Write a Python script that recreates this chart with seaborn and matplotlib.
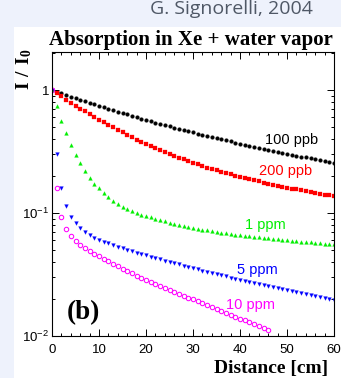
"""
Light absorption in Xe + water vapor (Signorelli 2004), redrawn with seaborn.
"""

import numpy as np
import pandas as pd
import matplotlib

matplotlib.use("Agg")
import matplotlib.pyplot as plt
from matplotlib.patches import Rectangle
from matplotlib.ticker import MultipleLocator, LogLocator, NullFormatter
import seaborn as sns

# distance along the cell [cm], one point per cm
distance = list(range(0, 61))

# log10(I/I0) for each contamination level
log10_100ppb = [0, -0.013, -0.026, -0.040, -0.053, -0.066, -0.078, -0.091, -0.103, -0.116,
                -0.128, -0.140, -0.152, -0.163, -0.175, -0.187, -0.198, -0.210, -0.221, -0.233,
                -0.244, -0.254, -0.265, -0.275, -0.286, -0.296, -0.306, -0.316, -0.325, -0.335,
                -0.345, -0.354, -0.363, -0.373, -0.382, -0.391, -0.400, -0.409, -0.418, -0.427,
                -0.436, -0.444, -0.453, -0.461, -0.470, -0.478, -0.486, -0.494, -0.502, -0.510,
                -0.518, -0.526, -0.533, -0.541, -0.548, -0.556, -0.563, -0.571, -0.578, -0.586,
                -0.593]
log10_200ppb = [0, -0.026, -0.051, -0.077, -0.102, -0.128, -0.151, -0.174, -0.197, -0.219,
                -0.241, -0.262, -0.283, -0.304, -0.324, -0.344, -0.364, -0.383, -0.402, -0.421,
                -0.438, -0.456, -0.472, -0.489, -0.505, -0.520, -0.535, -0.550, -0.564, -0.578,
                -0.592, -0.605, -0.618, -0.630, -0.642, -0.653, -0.664, -0.675, -0.686, -0.696,
                -0.706, -0.715, -0.725, -0.734, -0.743, -0.752, -0.760, -0.769, -0.777, -0.785,
                -0.793, -0.801, -0.808, -0.816, -0.823, -0.830, -0.837, -0.844, -0.851, -0.857,
                -0.864]
log10_1ppm = [0, -0.128, -0.252, -0.352, -0.447, -0.531, -0.596, -0.661, -0.715, -0.760,
              -0.800, -0.835, -0.870, -0.900, -0.926, -0.948, -0.967, -0.984, -0.999, -1.012,
              -1.024, -1.036, -1.047, -1.058, -1.068, -1.078, -1.087, -1.096, -1.104, -1.112,
              -1.120, -1.127, -1.134, -1.141, -1.147, -1.153, -1.159, -1.165, -1.170, -1.175,
              -1.180, -1.185, -1.190, -1.194, -1.198, -1.202, -1.206, -1.210, -1.214, -1.218,
              -1.222, -1.226, -1.229, -1.233, -1.236, -1.239, -1.242, -1.245, -1.248, -1.251,
              -1.254]
log10_5ppm = [0, -0.520, -0.800, -0.945, -1.030, -1.084, -1.125, -1.157, -1.180, -1.200,
              -1.218, -1.233, -1.247, -1.260, -1.273, -1.286, -1.298, -1.310, -1.321, -1.332,
              -1.343, -1.354, -1.365, -1.376, -1.387, -1.397, -1.408, -1.418, -1.428, -1.438,
              -1.448, -1.458, -1.468, -1.478, -1.488, -1.497, -1.507, -1.516, -1.526, -1.535,
              -1.544, -1.553, -1.562, -1.571, -1.579, -1.588, -1.596, -1.605, -1.613, -1.621,
              -1.629, -1.637, -1.645, -1.653, -1.661, -1.669, -1.676, -1.684, -1.692, -1.699,
              -1.707]
log10_10ppm = [0, -0.800, -1.030, -1.133, -1.183, -1.225, -1.257, -1.284, -1.308, -1.330,
               -1.351, -1.372, -1.393, -1.413, -1.433, -1.453, -1.472, -1.491, -1.509, -1.527,
               -1.545, -1.561, -1.577, -1.593, -1.609, -1.625, -1.641, -1.657, -1.673, -1.688,
               -1.703, -1.719, -1.734, -1.750, -1.765, -1.781, -1.796, -1.812, -1.827, -1.843,
               -1.858, -1.873, -1.888, -1.903, -1.918, -1.933, -1.948]

series_names = ["100 ppb", "200 ppb", "1 ppm", "5 ppm", "10 ppm"]
series_logs = [log10_100ppb, log10_200ppb, log10_1ppm, log10_5ppm, log10_10ppm]
series_colors = ["black", "#ff0000", "#00ee00", "#0000ff", "#ff00ff"]
series_markers = ["o", "s", "^", "v", "o"]

# where each series label sits (distance, I/I0)
label_x = [50.9, 49.6, 45.3, 43.8, 42.2]
label_y = [0.39, 0.219, 0.080, 0.0344, 0.018]

frames = []
for name, logs in zip(series_names, series_logs):
    frames.append(pd.DataFrame({
        "distance": distance[:len(logs)],
        "ratio": np.power(10.0, logs),
        "series": name,
    }))
df = pd.concat(frames, ignore_index=True)

sns.set_style("ticks")
plt.rcParams["font.family"] = ["Liberation Sans", "DejaVu Sans"]
plt.rcParams["mathtext.fontset"] = "custom"
plt.rcParams["mathtext.rm"] = "Liberation Sans"
plt.rcParams["mathtext.bf"] = "Liberation Serif:bold"
for key in ["text.color", "axes.labelcolor", "xtick.color", "ytick.color",
            "axes.edgecolor"]:
    plt.rcParams[key] = "black"

fig = plt.figure(figsize=(3.41, 3.78), dpi=100, facecolor="#eef2fc")
fig.patches.append(Rectangle((14 / 341, 0), 1, (378 - 27) / 378,
                             transform=fig.transFigure, facecolor="white",
                             edgecolor="none", zorder=-10))
ax = fig.add_axes([52 / 341, 1 - 336 / 378, 282 / 341, 284 / 378])
ax.set_facecolor("none")

for name, color, marker in zip(series_names, series_colors, series_markers):
    sub = df[df["series"] == name]
    hollow = name == "10 ppm"
    sns.lineplot(
        data=sub, x="distance", y="ratio", ax=ax, errorbar=None,
        linestyle="", marker=marker, markersize=3.2 if hollow else 2.7,
        color=color, markeredgecolor=color,
        markerfacecolor="none" if hollow else color,
        markeredgewidth=0.75 if hollow else 0.2,
    )

for name, color, x, y in zip(series_names, series_colors, label_x, label_y):
    ax.text(x, y, name, color=color, fontsize=10.5, ha="center", va="center")

ax.set_yscale("log")
ax.set_xlim(0, 60)
ax.set_ylim(0.01, 2.04)
ax.set_xticks([0, 10, 20, 30, 40, 50, 60])
ax.xaxis.set_minor_locator(MultipleLocator(2))
ax.set_yticks([0.01, 0.1, 1])
ax.set_yticklabels([r"$\mathdefault{10^{-2}}$", r"$\mathdefault{10^{-1}}$", "1"])
ax.yaxis.set_minor_locator(LogLocator(base=10, subs=np.arange(2, 10)))
ax.yaxis.set_minor_formatter(NullFormatter())
ax.tick_params(which="both", direction="in", top=True, right=True,
               labelsize=9.5, width=0.7, color="black")
ax.tick_params(which="major", length=5)
ax.tick_params(which="minor", length=2.5)
ax.tick_params(axis="x", pad=6)
ax.tick_params(axis="y", pad=2)
for spine in ax.spines.values():
    spine.set_linewidth(0.8)
    spine.set_color("black")

ax.set_xlabel("")
ax.set_ylabel("")
fig.text(24 / 341, 1 - 90 / 378, r"$\mathbf{I\ /\ I_0}$", fontsize=14,
         rotation=90, ha="center", va="bottom")

ax.text(0.11, 0.06, "(b)", transform=ax.transAxes, fontsize=19.5,
        fontfamily="Liberation Serif", fontweight="bold",
        ha="center", va="baseline")

fig.text(191 / 341, 1 - 45 / 378, "Absorption in Xe + water vapor",
         fontsize=15, fontfamily="Liberation Serif", fontweight="bold",
         ha="center", va="baseline")
fig.text(328 / 341, 5 / 378, "Distance [cm]", fontsize=14,
         fontfamily="Liberation Serif", fontweight="bold",
         ha="right", va="baseline")
fig.text(150 / 341, 1 - 14 / 378, "G. Signorelli, 2004", fontsize=14,
         fontfamily="Open Sans", color="#4f5866", ha="left", va="baseline")

fig.savefig("out.png", dpi=100, facecolor=fig.get_facecolor())
